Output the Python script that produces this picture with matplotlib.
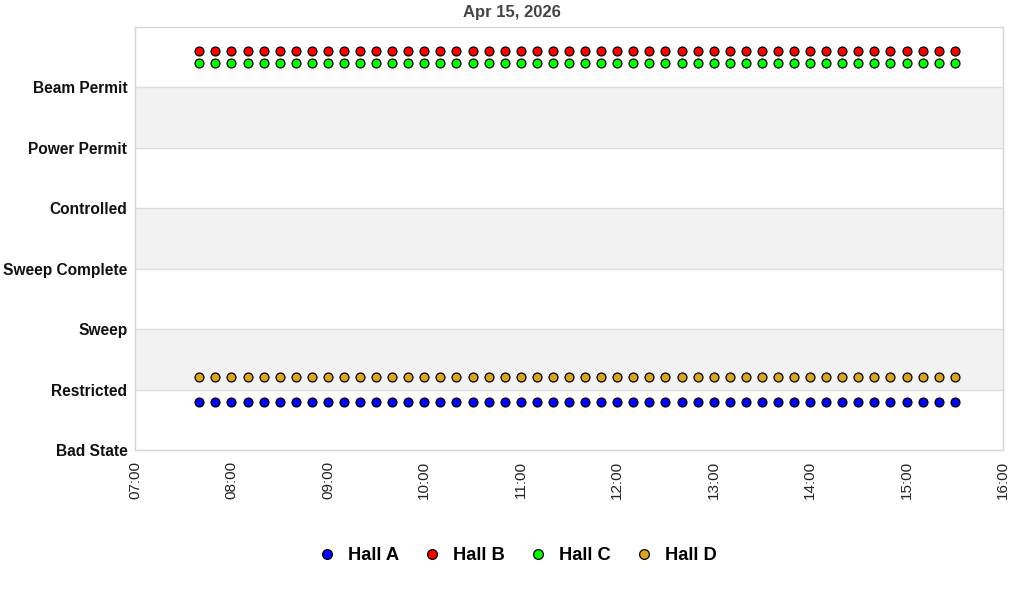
import numpy as np
import pandas as pd
import matplotlib
matplotlib.use("Agg")
import matplotlib.pyplot as plt
import matplotlib.dates as mdates

plt.rcParams['font.family'] = ['Liberation Sans', 'DejaVu Sans']

# State categories (bottom to top)
states = ['Bad State', 'Restricted', 'Sweep', 'Sweep Complete',
          'Controlled', 'Power Permit', 'Beam Permit']

# Sample times, every 10 minutes
times = pd.date_range('2026-04-15 07:40', '2026-04-15 15:30', freq='10min')

# State of each hall (constant over the shown period)
halls = ['Hall A', 'Hall B', 'Hall C', 'Hall D']
hall_state = ['Restricted', 'Beam Permit', 'Beam Permit', 'Restricted']
hall_colors = ['#0000ff', '#ff0000', '#00ff00', '#daa520']
# small vertical offset so the halls do not overlap
hall_offset = [-0.2, 0.6, 0.4, 0.2]

fig = plt.figure(figsize=(10.24, 6.0), dpi=100)
ax = fig.add_axes([135/1024, 150/600, 868/1024, 423/600])

# alternating bands
for k in range(1, len(states), 2):
    ax.axhspan(k, k + 1, color='#f2f2f2', zorder=0, lw=0)

handles = []
for name, st, col, off in zip(halls, hall_state, hall_colors, hall_offset):
    yv = np.full(len(times), states.index(st) + off)
    h = ax.plot(times, yv, ls='none', marker='o', ms=6.4, mfc=col,
                mec='black', mew=0.9, label=name, zorder=3)[0]
    handles.append(h)

ax.set_ylim(0, 7)
ax.set_yticks(range(len(states)))
ax.set_yticklabels(states, fontsize=11.2, fontweight='bold', color='#111111')
ax.grid(axis='y', color='#dcdcdc', lw=1, zorder=1)

ax.set_xlim(pd.Timestamp('2026-04-15 07:00'), pd.Timestamp('2026-04-15 16:00'))
ax.xaxis.set_major_locator(mdates.HourLocator())
ax.xaxis.set_major_formatter(mdates.DateFormatter('%H:%M'))
plt.setp(ax.get_xticklabels(), rotation=90, fontsize=11, color='#222222')
ax.tick_params(axis='both', length=0)
ax.tick_params(axis='x', pad=8)
ax.tick_params(axis='y', pad=5.5)

for s in ax.spines.values():
    s.set_color('#d6d6d6')
    s.set_linewidth(1)

fig.text(512/1024, 1 - 13/600, 'Apr 15, 2026', ha='center', va='center',
         fontsize=12, fontweight='bold', color='#444444')

fig.legend(handles=handles, loc='center', bbox_to_anchor=(517/1024, 1 - 556/600),
           ncol=4, frameon=False, prop={'weight': 'bold', 'size': 13.2},
           handletextpad=0.65, columnspacing=1.3, handlelength=1.0,
           markerscale=1.1)

fig.savefig('out.png', dpi=100)
